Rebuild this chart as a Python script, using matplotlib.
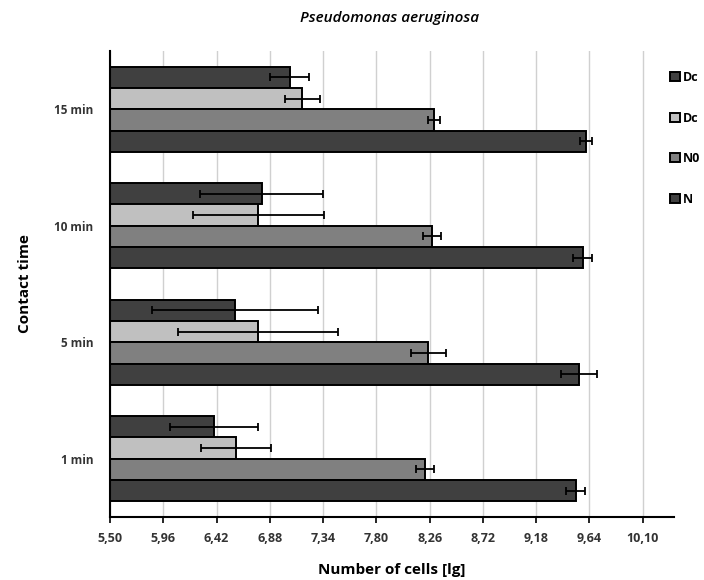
import matplotlib
matplotlib.use("Agg")
import matplotlib.pyplot as plt
import numpy as np

plt.rcParams['font.family'] = ['Open Sans', 'DejaVu Sans']

categories = ["1 min", "5 min", "10 min", "15 min"]
series_names = ["Dc", "Dc", "N0", "N"]
# values per series, in category order (1, 5, 10, 15 min)
dc1 = [6.40, 6.58, 6.81, 7.05]
dc1_err = [0.38, 0.72, 0.53, 0.17]
dc2 = [6.59, 6.78, 6.78, 7.16]
dc2_err = [0.30, 0.69, 0.565, 0.15]
n0 = [8.22, 8.25, 8.28, 8.30]
n0_err = [0.08, 0.15, 0.075, 0.05]
n = [9.52, 9.55, 9.58, 9.61]
n_err = [0.08, 0.155, 0.08, 0.05]
xticks = [5.50, 5.96, 6.42, 6.88, 7.34, 7.80, 8.26, 8.72, 9.18, 9.64, 10.10]
xtick_labels = ["5,50", "5,96", "6,42", "6,88", "7,34", "7,80", "8,26", "8,72", "9,18", "9,64", "10,10"]

colors = ["#404040", "#c0c0c0", "#808080", "#404040"]
series = [dc1, dc2, n0, n]
errs = [dc1_err, dc2_err, n0_err, n_err]

fig = plt.figure(figsize=(7.04, 5.80), dpi=100)
ax = fig.add_axes([110/704, 1 - 517/580, (674-110)/704, (517-51)/580])

base = 5.5
h = 0.183
y = np.arange(len(categories))
offsets = [1.5*h, 0.5*h, -0.5*h, -1.5*h]
handles = []
for s, e, c, off, name in zip(series, errs, colors, offsets, series_names):
    vals = np.array(s)
    b = ax.barh(y + off, vals - base, left=base, height=h, color=c,
                edgecolor="black", linewidth=1.4, label=name, zorder=2)
    ax.errorbar(vals, y + off, xerr=e, fmt="none", ecolor="black",
                elinewidth=1.3, capsize=3, capthick=1.3, zorder=3)
    handles.append(b)

ax.set_xlim(5.5, 10.37)
ax.set_ylim(-0.5, 3.5)
ax.set_xticks(xticks)
ax.set_xticklabels(xtick_labels, fontsize=9, fontweight="bold", color="#333333")
ax.set_yticks(y)
ax.set_yticklabels(categories, fontsize=8.5, fontweight="bold", color="#333333")
ax.tick_params(axis="y", length=0, pad=12)
ax.tick_params(axis="x", length=4, width=1.2, direction="out", pad=7)
ax.grid(axis="x", color="#d0d0d0", linewidth=1.0, zorder=0)
ax.set_axisbelow(True)
for sp in ["top", "right"]:
    ax.spines[sp].set_visible(False)
ax.spines["left"].set_linewidth(1.5)
ax.spines["bottom"].set_linewidth(1.5)

ax.set_xlabel("Number of cells [lg]", fontsize=11, fontweight="bold", labelpad=13)
ax.set_ylabel("Contact time", fontsize=11, fontweight="bold", labelpad=16)
fig.text(390/704, 1 - 18/580, "Pseudomonas aeruginosa", fontsize=11,
         style="italic", fontweight="semibold", ha="center", va="center")

leg = fig.legend(handles, series_names, loc="upper left",
                 bbox_to_anchor=(659/704, 1 - 60/580), frameon=False,
                 handlelength=0.75, handleheight=0.75, handletextpad=0.3,
                 labelspacing=2.2, prop={"size": 9, "weight": "bold"})

fig.savefig("out.png", dpi=100)
